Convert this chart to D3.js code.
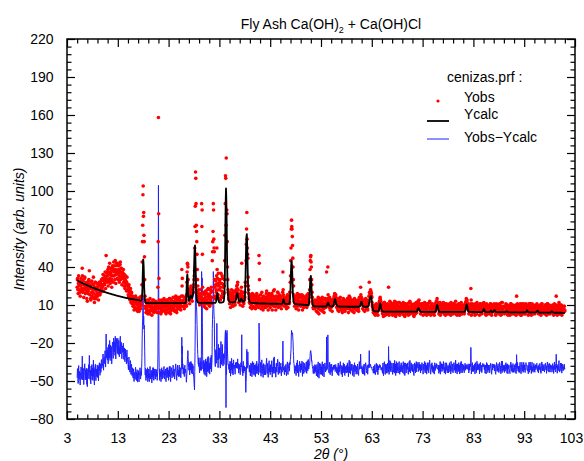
<!DOCTYPE html>
<html>
<head>
<meta charset="utf-8">
<script src="https://cdn.jsdelivr.net/npm/d3@7"></script>
<style>
  body { margin: 0; background: #fff; }
</style>
</head>
<body>
<script>
// scan: 2theta from 5.00 to 101.00, step 0.05 (one line = one degree)
var tthStart = 5.0,
    tthStep = 0.05;

var yobs = [
24,30,31,22,19,27,33,25,22,28,28,20,17,26,25,31,30,21,23,27,
39,33,20,26,29,23,16,22,26,31,32,24,19,27,24,20,28,22,15,24,
13,22,27,19,21,29,30,24,37,26,18,23,25,15,14,28,23,20,29,17,
20,26,16,22,32,19,26,15,12,24,22,28,28,17,15,21,24,18,19,27,
17,24,25,19,14,26,22,28,28,21,18,25,27,20,21,29,30,23,24,26,
25,31,34,26,21,29,31,27,26,33,36,28,23,32,49,30,30,36,35,28,
33,38,25,30,40,34,29,36,43,31,27,39,35,29,38,33,24,30,37,41,
39,33,28,37,44,36,33,41,38,30,45,38,27,34,36,43,41,35,31,37,
43,36,30,38,41,33,28,35,37,42,44,30,32,39,39,35,26,33,36,31,
31,35,38,28,25,32,34,29,23,30,33,27,29,25,21,28,32,26,26,22,
22,18,16,24,26,20,18,15,14,21,23,17,12,19,20,16,11,15,17,13,
9,14,16,10,6,12,13,8,8,15,17,11,7,13,12,6,15,10,5,12,
8,13,14,6,5,12,11,16,16,9,7,13,12,10,17,26,44,60,73,97,
104,80,83,65,60,48,30,17,9,14,7,4,12,8,6,13,10,14,3,9,
6,10,13,5,3,9,10,15,5,8,9,12,12,6,2,9,11,7,14,5,
14,8,4,11,8,13,12,6,5,10,13,9,7,12,10,4,7,11,24,60,
158,82,31,14,9,4,13,8,7,11,3,6,11,14,8,5,12,9,6,10,
9,13,15,6,5,11,8,12,13,4,3,9,11,14,6,9,14,10,7,12,
4,9,12,15,7,10,15,5,3,8,10,14,13,7,6,11,9,12,16,8,
7,11,13,6,5,10,11,15,17,12,9,6,4,10,14,16,8,11,12,7,
10,15,16,8,7,12,14,10,6,9,12,17,38,25,31,13,17,9,9,14,
14,9,7,13,16,10,11,13,12,10,9,18,28,36,43,42,40,30,22,17,
14,19,20,11,16,23,21,18,25,20,15,22,21,13,19,22,20,24,20,26,
30,33,37,55,72,88,115,110,90,73,68,60,50,38,30,25,20,17,22,15,
18,13,10,16,22,15,12,19,17,12,90,72,85,50,24,13,19,15,11,20,
9,14,18,12,8,16,21,11,14,19,7,13,19,22,11,17,23,12,15,10,
18,12,9,17,22,14,13,20,24,11,16,21,45,52,60,68,90,85,62,55,
52,30,24,17,15,26,29,22,20,33,55,38,31,27,25,18,35,22,26,30,
22,28,30,15,14,24,35,27,17,21,27,33,31,19,16,24,26,20,19,25,
30,45,65,90,112,110,73,126,82,85,82,60,40,30,22,20,19,15,14,18,
11,17,20,14,8,19,17,13,22,16,10,15,18,12,9,20,21,14,15,17,
16,12,10,15,20,17,22,19,25,21,23,26,28,19,22,18,12,16,18,14,
17,13,10,16,19,21,18,24,43,16,13,17,9,15,20,12,11,16,17,14,
16,20,28,25,28,45,58,70,83,62,55,50,47,32,25,22,19,15,12,17,
15,11,8,14,18,12,10,17,7,13,19,15,12,9,14,18,12,8,16,13,
12,16,7,11,17,14,10,19,9,13,15,12,11,17,8,13,49,43,30,15,
10,14,18,11,7,13,15,20,9,12,13,16,6,11,17,14,11,8,12,16,
16,10,8,14,14,19,21,12,9,15,17,11,6,13,12,18,19,10,13,15,
8,13,16,10,11,17,19,12,6,14,14,10,17,21,9,15,22,13,12,9,
14,9,6,12,17,13,10,16,15,20,20,11,8,14,12,17,18,10,9,14,
12,15,17,11,7,13,14,10,13,20,36,22,18,15,16,12,9,14,15,11,
10,14,16,9,7,12,14,17,18,11,8,13,13,15,17,11,12,20,20,28,
33,45,55,70,77,72,70,64,57,47,40,30,25,18,17,13,9,12,15,11,
14,10,7,13,17,12,10,19,9,14,15,11,6,12,13,17,18,10,12,16,
9,13,16,12,11,18,14,6,10,14,17,12,8,11,12,16,15,9,13,11,
11,15,17,9,8,14,18,12,10,15,19,13,12,16,18,22,30,38,45,48,
49,44,40,30,26,20,16,13,11,8,7,10,13,9,12,7,14,10,8,13,
12,8,5,10,14,11,8,4,13,16,7,10,3,9,12,15,10,6,11,14,
13,9,6,12,10,16,5,8,9,14,14,7,4,11,11,15,15,10,8,12,
9,12,36,14,11,13,15,40,18,14,13,9,8,14,16,11,6,10,12,14,
8,12,14,9,5,11,12,10,10,14,15,13,17,15,19,18,14,17,18,15,
14,11,8,12,12,9,6,14,15,10,5,11,13,8,9,14,16,12,10,7,
6,10,13,9,4,12,11,7,15,10,8,13,14,6,5,11,12,9,7,13,
13,9,7,11,15,8,9,12,4,10,14,17,10,7,16,12,6,9,12,14,
9,12,14,10,5,8,12,13,10,7,4,11,15,9,8,12,13,10,6,9,
12,9,6,11,14,10,9,7,5,11,13,16,10,12,11,15,24,18,15,16,
14,15,10,12,7,11,13,10,6,12,14,9,5,10,11,14,15,12,9,7,
9,12,13,7,6,10,14,12,13,17,28,20,17,19,20,22,21,20,19,17,
16,12,10,9,8,6,4,7,9,5,3,8,10,6,2,5,6,9,11,7,
4,7,10,5,2,8,9,6,9,11,13,12,15,16,14,13,10,8,9,7,
8,5,3,9,11,6,1,4,9,12,12,7,4,2,10,6,8,5,3,10,
3,7,11,9,6,4,24,10,2,6,9,13,5,8,12,4,4,7,8,11,
10,6,2,5,6,11,4,9,8,3,13,8,5,10,1,6,9,12,3,8,
5,9,11,4,3,7,8,12,12,5,2,8,9,4,6,11,11,7,4,9,
8,4,3,10,12,7,6,2,9,11,1,5,11,8,7,3,4,10,10,6,
11,7,5,3,2,8,9,12,7,4,13,9,3,6,8,11,10,5,5,9,
4,8,10,6,6,2,1,9,11,5,7,10,3,8,9,12,6,4,12,8,
10,12,13,9,7,11,14,8,11,6,6,10,3,7,9,5,5,11,11,8,
8,5,2,9,10,6,5,11,12,7,3,10,11,4,7,9,2,6,9,11,
5,9,11,4,3,8,8,12,13,7,6,3,2,9,10,6,7,11,4,8,
9,5,3,8,8,4,2,7,11,6,5,9,10,8,13,12,13,15,12,11,
11,9,7,10,3,6,9,4,5,12,2,8,11,7,7,10,4,8,10,6,
5,9,12,6,7,3,3,8,9,11,2,7,8,5,11,10,5,3,4,8,
9,6,3,8,7,10,11,4,4,9,6,2,12,8,7,5,4,10,9,6,
3,7,8,11,11,6,5,9,9,3,13,8,4,10,7,4,2,6,10,8,
7,4,11,8,5,9,2,6,9,11,6,3,12,9,7,5,3,8,10,6,
5,9,9,4,3,8,8,11,10,7,12,13,15,13,12,14,10,9,8,11,
6,8,3,7,10,5,5,9,8,11,23,14,2,6,7,9,11,4,5,8,
4,8,9,5,6,10,2,4,11,8,7,3,3,9,12,7,5,10,9,6,
9,6,5,10,2,6,8,11,11,6,4,9,7,3,5,8,8,11,9,10,
10,12,9,7,7,10,3,8,9,5,2,6,11,8,7,10,4,3,5,9,
5,8,9,4,3,7,7,11,11,8,6,3,2,6,10,7,5,9,7,10,
9,10,11,6,7,10,5,3,2,8,9,11,6,4,4,8,5,10,7,6,
3,6,7,11,10,4,5,8,2,6,9,12,6,3,12,7,4,9,8,5,
8,5,3,9,9,4,5,8,11,6,7,10,3,5,10,4,2,8,6,9,
9,6,5,3,2,8,7,11,11,6,4,9,8,3,5,9,10,7,3,6,
5,8,9,4,3,7,8,10,2,5,17,9,6,11,10,6,4,8,7,3,
8,5,3,10,11,7,5,2,2,8,9,11,6,4,8,9,3,6,11,7,
5,8,9,3,3,7,8,11,10,9,9,7,7,5,5,9,2,6,9,11,
3,6,8,11,11,5,5,8,2,6,9,11,4,7,7,3,6,9,10,5,
8,4,3,9,9,6,5,8,7,10,11,7,8,5,5,9,3,7,9,6,
5,8,10,6,3,7,2,5,8,11,11,6,4,9,7,4,5,8,9,5,
3,6,8,10,10,5,5,8,2,6,7,11,11,7,4,9,6,3,8,10,
8,5,3,7,9,6,6,9,7,4,4,8,10,6,5,8,2,6,8,11,
5,8,9,4,3,7,17,10,6,9,2,5,8,6,4,7,10,12,6,3,
3,6,8,10,6,4,10,7,2,5,5,9,8,4,4,7,6,9,9,5,
6
];

var ycalc = [
29.4,29.3,29.2,29.1,29.0,28.9,28.8,28.7,28.6,28.5,28.4,28.3,28.2,28.1,28.0,27.9,27.8,27.7,27.6,27.5,
27.4,27.3,27.2,27.1,27.0,26.9,26.8,26.7,26.6,26.5,26.4,26.3,26.2,26.15,26.1,26.0,25.9,25.8,25.7,25.6,
25.5,25.4,25.3,25.25,25.2,25.1,25.0,24.9,24.8,24.75,24.7,24.6,24.5,24.4,24.3,24.2,24.1,24.05,24.0,23.9,
23.8,23.7,23.6,23.55,23.5,23.4,23.3,23.25,23.2,23.1,23.0,22.9,22.8,22.75,22.7,22.6,22.5,22.45,22.4,22.3,
22.2,22.15,22.1,22.0,21.9,21.85,21.8,21.7,21.6,21.55,21.5,21.45,21.4,21.3,21.2,21.15,21.1,21.0,20.9,20.85,
20.8,20.75,20.7,20.6,20.5,20.45,20.4,20.35,20.3,20.2,20.1,20.05,20.0,19.95,19.9,19.85,19.8,19.7,19.6,19.55,
19.5,19.45,19.4,19.35,19.3,19.2,19.1,19.05,19.0,18.95,18.9,18.85,18.8,18.75,18.7,18.6,18.5,18.45,18.4,18.35,
18.3,18.25,18.2,18.15,18.1,18.05,18.0,17.9,17.8,17.75,17.7,17.65,17.6,17.55,17.5,17.45,17.4,17.35,17.3,17.25,
17.2,17.15,17.1,17.05,17.0,16.95,16.9,16.85,16.8,16.75,16.7,16.65,16.6,16.55,16.5,16.45,16.4,16.35,16.3,16.25,
16.2,16.15,16.1,16.05,16.0,15.95,15.9,15.85,15.8,15.75,15.7,15.65,15.6,15.55,15.5,15.5,15.5,15.45,15.4,15.35,
15.3,15.25,15.2,15.15,15.1,15.05,15.0,15.0,15.0,14.95,14.9,14.85,14.8,14.75,14.7,14.7,14.7,14.65,14.6,14.55,
14.5,14.45,14.4,14.4,14.4,14.35,14.3,14.25,14.2,14.2,14.2,14.15,14.1,14.05,14.0,14.0,14.0,13.95,13.9,13.85,
13.8,13.8,13.8,13.75,13.7,13.65,13.6,13.6,13.6,13.55,13.5,13.5,13.5,13.6,14.0,15.5,18.0,24.0,32.0,40.0,
46.0,44.0,40.0,32.0,24.0,19.0,15.0,13.5,12.3,12.0,11.7,11.6,11.5,11.5,11.5,11.5,11.5,11.5,11.5,11.5,
11.5,11.5,11.5,11.5,11.5,11.5,11.5,11.5,11.5,11.5,11.5,11.5,11.5,11.5,11.5,11.5,11.5,11.5,11.5,11.5,
11.5,11.5,11.5,11.5,11.5,11.5,11.5,11.5,11.5,11.5,11.5,11.5,11.5,11.5,11.5,11.5,11.5,11.5,11.5,11.5,
11.5,11.5,11.5,11.5,11.5,11.5,11.5,11.5,11.5,11.5,11.5,11.5,11.5,11.5,11.5,11.5,11.5,11.5,11.5,11.5,
11.5,11.5,11.5,11.5,11.5,11.5,11.5,11.5,11.5,11.5,11.5,11.5,11.5,11.5,11.5,11.5,11.5,11.5,11.5,11.5,
11.5,11.5,11.5,11.5,11.5,11.5,11.5,11.5,11.5,11.5,11.5,11.5,11.5,11.5,11.5,11.5,11.5,11.5,11.5,11.5,
11.5,11.5,11.5,11.5,11.5,11.5,11.5,11.5,11.5,11.5,11.5,11.5,11.5,11.5,11.5,11.5,11.5,11.5,11.5,11.5,
11.5,11.5,11.5,11.5,11.5,11.5,11.5,11.5,11.5,11.5,11.5,11.5,11.5,11.5,11.5,11.5,11.5,11.5,11.5,11.5,
11.5,11.5,11.5,11.5,11.5,11.5,11.6,11.8,12.5,14.5,18.0,24.0,30.0,33.5,34.0,30.0,24.0,19.5,16.0,14.5,
13.5,13.3,13.5,14.2,15.0,16.0,17.0,17.4,17.5,17.0,16.5,16.0,15.5,15.5,16.0,16.8,18.0,20.5,24.0,30.0,
38.0,45.0,52.0,55.5,57.0,52.0,44.0,35.0,26.0,21.0,17.0,15.0,13.5,12.8,12.3,12.1,11.9,11.8,11.7,11.6,
11.6,11.6,11.6,11.6,11.6,11.6,11.6,11.6,11.6,11.6,11.6,11.6,11.6,11.6,11.6,11.6,11.6,11.6,11.6,11.6,
11.6,11.6,11.6,11.6,11.6,11.6,11.6,11.6,11.6,11.6,11.6,11.6,11.6,11.6,11.6,11.6,11.6,11.6,11.6,11.6,
11.6,11.6,11.6,11.6,11.6,11.6,11.6,11.6,11.6,11.6,11.6,11.6,11.6,11.6,11.6,11.6,11.6,11.6,11.6,11.6,
11.6,11.6,11.6,11.6,11.7,11.9,12.3,13.0,14.0,15.7,17.5,18.5,19.3,18.5,17.0,15.5,14.0,13.2,12.5,12.2,
12.0,11.9,11.8,11.8,11.8,11.8,11.8,11.85,11.9,11.95,12.0,12.05,12.1,12.15,12.2,12.3,12.5,13.0,14.0,16.5,
20.0,28.0,40.0,60.0,80.0,94.0,102.0,96.0,85.0,68.0,50.0,36.0,26.0,20.5,17.0,15.3,14.0,13.5,13.0,12.7,
12.5,12.4,12.3,12.25,12.2,12.15,12.1,12.1,12.1,12.1,12.1,12.1,12.1,12.15,12.2,12.25,12.3,12.3,12.3,12.3,
12.3,12.4,12.6,13.0,13.5,14.4,15.5,16.8,18.0,18.8,19.3,19.0,18.5,17.3,16.0,14.8,13.8,13.2,12.8,12.7,
12.6,12.8,13.0,13.5,14.0,14.5,15.0,14.8,14.5,14.0,13.5,13.1,12.8,12.6,12.5,12.5,12.6,12.8,13.0,14.0,
16.0,19.5,25.0,34.0,45.0,54.0,62.0,65.0,66.0,60.0,52.0,42.0,32.0,25.0,20.0,17.0,15.0,13.8,13.0,12.6,
12.3,12.1,12.0,11.9,11.8,11.75,11.7,11.7,11.7,11.65,11.6,11.6,11.6,11.6,11.6,11.6,11.5,11.5,11.5,11.5,
11.5,11.5,11.5,11.5,11.4,11.4,11.4,11.4,11.4,11.4,11.4,11.4,11.4,11.35,11.3,11.3,11.3,11.3,11.3,11.3,
11.3,11.3,11.3,11.3,11.3,11.3,11.3,11.3,11.2,11.2,11.2,11.2,11.2,11.2,11.2,11.2,11.2,11.2,11.2,11.2,
11.2,11.2,11.2,11.2,11.1,11.1,11.1,11.1,11.1,11.1,11.1,11.1,11.1,11.1,11.1,11.1,11.0,11.0,11.0,11.0,
11.0,11.0,11.0,11.0,11.0,11.0,11.0,11.0,11.0,11.0,11.0,11.0,11.0,11.0,11.0,11.0,11.0,11.0,11.0,11.0,
11.0,11.0,11.0,11.0,11.0,11.0,11.0,11.0,10.9,10.9,10.9,10.9,10.9,10.9,10.9,10.9,10.9,10.9,10.9,10.9,
10.9,10.9,10.9,10.9,10.9,10.9,11.0,11.1,11.3,11.8,12.5,13.5,14.5,14.5,14.0,13.0,12.0,11.4,11.0,10.9,
10.9,10.9,10.9,10.9,10.9,10.9,10.9,10.9,10.9,10.9,10.9,10.9,10.9,10.9,11.0,11.3,12.0,13.2,15.0,19.0,
24.0,31.0,38.0,42.5,45.0,43.0,40.0,34.0,27.0,21.0,17.0,14.5,13.0,12.0,11.5,11.2,11.0,10.9,10.8,10.75,
10.7,10.7,10.7,10.7,10.7,10.6,10.6,10.6,10.6,10.6,10.5,10.5,10.5,10.5,10.5,10.5,10.4,10.4,10.4,10.4,
10.4,10.4,10.3,10.3,10.3,10.3,10.3,10.3,10.2,10.2,10.2,10.2,10.2,10.2,10.1,10.1,10.1,10.1,10.1,10.1,
10.0,10.0,10.0,10.0,10.0,10.0,10.0,10.0,10.0,10.0,10.0,10.0,10.5,12.0,14.0,17.5,22.0,26.5,30.0,32.0,
33.0,31.0,27.0,22.5,18.0,15.0,12.5,11.0,10.0,9.5,9.2,9.1,9.0,9.0,9.0,9.0,9.0,8.9,8.9,8.9,
8.9,8.9,8.9,8.9,8.9,8.9,8.9,8.9,8.9,8.9,8.8,8.8,8.8,8.8,8.8,8.8,8.8,8.8,8.8,8.8,
8.8,8.8,8.8,8.8,8.8,8.8,8.8,8.8,8.8,8.8,8.8,8.8,8.8,8.8,8.8,8.8,8.8,8.8,8.8,8.8,
8.8,9.0,9.2,9.6,10.0,10.7,11.3,11.6,11.8,11.5,11.0,10.4,9.8,9.5,9.2,9.1,9.0,8.9,8.9,8.8,
8.8,8.8,8.8,8.8,8.9,8.9,9.0,9.2,9.5,10.0,10.5,11.5,12.5,13.4,14.2,14.4,14.5,13.8,13.0,12.0,
11.0,10.4,9.8,9.5,9.2,9.1,9.0,8.9,8.9,8.8,8.8,8.8,8.8,8.8,8.8,8.8,8.7,8.7,8.7,8.7,
8.7,8.7,8.7,8.7,8.7,8.7,8.7,8.7,8.7,8.7,8.7,8.7,8.7,8.7,8.7,8.7,8.7,8.7,8.7,8.7,
8.7,8.7,8.7,8.7,8.7,8.7,8.6,8.6,8.6,8.6,8.6,8.6,8.6,8.6,8.6,8.6,8.6,8.6,8.6,8.6,
8.6,8.6,8.6,8.6,8.6,8.6,8.6,8.6,8.6,8.6,8.6,8.6,8.6,8.6,8.6,8.6,8.6,8.6,8.6,8.6,
8.6,8.6,8.6,8.6,8.6,8.6,8.6,8.6,8.6,8.6,8.65,8.7,8.8,9.0,9.4,10.0,10.8,11.6,12.2,12.6,
12.5,12.0,11.2,10.2,9.5,9.0,8.8,8.7,8.6,8.6,8.6,8.6,8.6,8.6,8.6,8.6,8.6,8.6,8.6,8.6,
8.6,8.6,8.6,8.6,8.7,8.8,9.0,9.4,10.0,11.0,12.0,13.2,14.5,15.5,16.3,16.8,17.0,16.8,16.0,14.8,
13.0,11.2,9.5,8.0,7.0,6.3,5.8,5.5,5.2,5.1,5.0,5.0,5.0,5.0,5.0,5.0,5.0,5.0,5.0,5.0,
5.0,5.0,5.0,5.0,5.0,5.0,5.1,5.3,5.9,6.8,8.0,9.5,10.6,11.3,11.0,10.0,8.7,7.5,6.5,5.8,
5.4,5.1,4.9,4.85,4.8,4.8,4.8,4.8,4.8,4.8,4.8,4.8,4.8,4.8,4.8,4.8,4.8,4.8,4.8,4.8,
4.8,4.8,4.8,4.8,4.8,4.8,4.8,4.8,4.8,4.8,4.8,4.8,4.8,4.8,4.8,4.8,4.8,4.8,4.8,4.8,
4.8,4.8,4.8,4.8,4.8,4.8,4.8,4.8,4.8,4.8,4.7,4.7,4.7,4.7,4.7,4.7,4.7,4.7,4.7,4.7,
4.7,4.7,4.7,4.7,4.7,4.7,4.7,4.7,4.7,4.7,4.7,4.7,4.7,4.7,4.7,4.7,4.7,4.7,4.7,4.7,
4.7,4.7,4.7,4.7,4.7,4.7,4.7,4.7,4.7,4.7,4.7,4.7,4.7,4.7,4.7,4.7,4.7,4.7,4.7,4.7,
4.7,4.7,4.7,4.7,4.7,4.7,4.7,4.7,4.7,4.7,4.7,4.7,4.7,4.7,4.7,4.7,4.7,4.7,4.7,4.7,
4.7,4.7,4.7,4.7,4.7,4.7,4.7,4.7,4.7,4.7,4.7,4.7,4.7,4.7,4.7,4.7,4.75,4.8,5.1,5.5,
6.5,6.9,7.3,7.4,7.5,7.3,7.0,6.5,6.0,5.6,5.2,4.9,4.7,4.65,4.6,4.6,4.6,4.6,4.6,4.6,
4.6,4.6,4.6,4.6,4.6,4.6,4.6,4.6,4.6,4.6,4.6,4.6,4.6,4.6,4.6,4.6,4.6,4.6,4.6,4.6,
4.6,4.6,4.6,4.6,4.6,4.6,4.6,4.6,4.6,4.6,4.6,4.6,4.6,4.6,4.6,4.6,4.6,4.6,4.6,4.6,
4.6,4.6,4.6,4.6,4.6,4.6,4.6,4.6,4.6,4.6,4.7,4.8,5.3,6.0,7.2,8.5,9.4,10.0,9.9,9.5,
8.6,7.5,6.5,5.5,5.0,4.7,4.6,4.6,4.6,4.6,4.6,4.6,4.6,4.6,4.6,4.6,4.6,4.6,4.6,4.6,
4.6,4.6,4.6,4.6,4.6,4.6,4.6,4.6,4.6,4.6,4.6,4.6,4.6,4.6,4.6,4.6,4.6,4.6,4.6,4.6,
4.6,4.6,4.6,4.6,4.6,4.6,4.6,4.6,4.6,4.6,4.5,4.5,4.5,4.5,4.5,4.5,4.5,4.5,4.5,4.5,
4.5,4.5,4.5,4.5,4.5,4.5,4.5,4.5,4.5,4.5,4.5,4.5,4.5,4.5,4.5,4.5,4.5,4.5,4.5,4.5,
4.5,4.5,4.5,4.5,4.5,4.5,4.5,4.5,4.5,4.5,4.5,4.5,4.5,4.5,4.5,4.5,4.5,4.5,4.5,4.5,
4.5,4.5,4.5,4.5,4.5,4.5,4.7,5.0,5.7,6.5,7.8,9.0,10.0,10.5,10.3,9.8,8.7,7.5,6.4,5.5,
5.0,4.7,4.6,4.5,4.5,4.5,4.5,4.5,4.5,4.5,4.5,4.5,4.5,4.5,4.5,4.5,4.5,4.5,4.5,4.5,
4.5,4.5,4.5,4.5,4.5,4.5,4.5,4.5,4.5,4.5,4.4,4.4,4.4,4.4,4.4,4.4,4.4,4.4,4.4,4.4,
4.4,4.4,4.4,4.4,4.4,4.4,4.4,4.4,4.4,4.4,4.4,4.4,4.4,4.4,4.4,4.4,4.7,5.0,5.5,6.0,
6.5,6.8,6.6,6.3,5.8,5.2,4.8,4.6,4.5,4.4,4.4,4.4,4.4,4.4,4.4,4.4,4.4,4.4,4.4,4.4,
4.4,4.4,4.4,4.4,4.45,4.5,4.7,5.0,5.3,5.5,5.3,5.0,4.7,4.5,4.4,4.4,4.4,4.4,4.6,4.9,
5.3,5.6,5.8,6.0,5.8,5.6,5.3,4.9,4.7,4.5,4.4,4.4,4.4,4.4,4.4,4.4,4.4,4.4,4.4,4.4,
4.3,4.3,4.3,4.3,4.3,4.3,4.3,4.3,4.3,4.3,4.3,4.3,4.3,4.3,4.3,4.3,4.3,4.3,4.3,4.3,
4.3,4.3,4.3,4.3,4.3,4.3,4.35,4.4,4.5,4.7,4.85,5.0,4.85,4.7,4.5,4.4,4.3,4.3,4.3,4.3,
4.2,4.2,4.2,4.2,4.2,4.2,4.2,4.2,4.2,4.2,4.2,4.2,4.2,4.2,4.2,4.2,4.2,4.2,4.2,4.2,
4.2,4.2,4.2,4.2,4.2,4.2,4.2,4.2,4.2,4.2,4.2,4.2,4.2,4.2,4.2,4.2,4.2,4.2,4.2,4.2,
4.2,4.2,4.2,4.2,4.2,4.2,4.2,4.2,4.2,4.2,4.2,4.2,4.2,4.2,4.2,4.2,4.2,4.2,4.2,4.2,
4.2,4.2,4.2,4.2,4.2,4.2,4.3,4.5,4.8,5.2,5.6,6.0,5.6,5.2,4.8,4.5,4.3,4.2,4.2,4.2,
4.1,4.1,4.1,4.1,4.1,4.1,4.1,4.1,4.1,4.1,4.1,4.1,4.1,4.1,4.1,4.1,4.1,4.1,4.1,4.1,
4.1,4.1,4.1,4.1,4.1,4.1,4.2,4.3,4.5,4.8,5.0,5.3,5.4,5.5,5.3,5.0,4.7,4.4,4.2,4.1,
4.0,4.0,4.0,4.0,4.0,4.0,4.0,4.0,4.0,4.0,4.0,4.0,4.0,4.0,4.0,4.0,4.0,4.0,4.0,4.0,
4.0,4.0,4.0,4.0,4.0,4.0,4.0,4.0,4.0,4.0,4.0,4.0,4.0,4.0,4.0,4.0,4.0,4.0,4.0,4.0,
4.0,4.0,4.0,4.0,4.1,4.3,4.5,4.8,4.9,5.0,4.8,4.6,4.3,4.1,4.0,4.0,4.0,4.0,4.0,4.0,
3.9,3.9,3.9,3.9,3.9,3.9,3.9,3.9,3.9,3.9,3.9,3.9,3.9,3.9,3.9,3.9,3.9,3.9,3.9,3.9,
3.9,3.9,3.9,3.9,3.9,3.9,3.9,3.9,3.8,3.8,3.8,3.8,3.8,3.8,3.8,3.8,3.8,3.8,3.8,3.8,
3.8
];

// Yobs-Ycalc is drawn shifted down by this amount
var diffOffset = -42;

var xTicks = [3, 13, 23, 33, 43, 53, 63, 73, 83, 93, 103];
var yTicks = [-80, -50, -20, 10, 40, 70, 100, 130, 160, 190, 220];
var legendTitle = "cenizas.prf :";
var legendLabels = ["Yobs", "Ycalc", "Yobs\u2212Ycalc"];

var width = 584,
    height = 461;
var plotLeft = 67, plotRight = 575, plotTop = 39, plotBottom = 419;
var font = "'Liberation Sans', Arial, Helvetica, sans-serif";

var svg = d3.select("body").append("svg")
    .attr("width", width)
    .attr("height", height);

var x = d3.scaleLinear().domain([3, 103]).range([plotLeft, plotRight]);
var y = d3.scaleLinear().domain([-80, 220]).range([plotBottom, plotTop]);

var n = Math.min(yobs.length, ycalc.length);
var points = d3.range(n).map(function (i) {
    return { tth: tthStart + i * tthStep, obs: yobs[i], calc: ycalc[i] };
});

svg.append("clipPath").attr("id", "plotclip")
  .append("rect")
    .attr("x", plotLeft).attr("y", plotTop)
    .attr("width", plotRight - plotLeft).attr("height", plotBottom - plotTop);

var plot = svg.append("g").attr("clip-path", "url(#plotclip)");

// difference curve (under the points)
plot.append("path")
    .datum(points)
    .attr("fill", "none")
    .attr("stroke", "#1f1fff")
    .attr("stroke-width", 1)
    .attr("d", d3.line()
        .x(function (d) { return x(d.tth); })
        .y(function (d) { return y(d.obs - d.calc + diffOffset); }));

// observed points
plot.selectAll(".obs")
    .data(points)
    .enter()
  .append("circle")
    .attr("class", "obs")
    .attr("cx", function (d) { return x(d.tth); })
    .attr("cy", function (d) { return y(d.obs); })
    .attr("r", 1.8)
    .attr("fill", "#ff0000");

// calculated profile
plot.append("path")
    .datum(points)
    .attr("fill", "none")
    .attr("stroke", "#000")
    .attr("stroke-width", 1.8)
    .attr("stroke-linejoin", "round")
    .attr("d", d3.line()
        .x(function (d) { return x(d.tth); })
        .y(function (d) { return y(d.calc); }));

// axes: inward ticks on all four sides
var xMinor = d3.range(3, 104, 2).filter(function (v) { return xTicks.indexOf(v) < 0; });
var yMinor = d3.range(-80, 221, 6).filter(function (v) { return yTicks.indexOf(v) < 0; });

function addAxis(axis, tx, ty) {
    var g = svg.append("g")
        .attr("transform", "translate(" + tx + "," + ty + ")")
        .call(axis);
    g.select(".domain").remove();
    g.attr("font-family", font).attr("font-size", 14);
    g.selectAll("line").attr("stroke", "#000").attr("stroke-width", 1.2);
    g.selectAll("text").attr("fill", "#000");
    return g;
}

var xAxisG = addAxis(d3.axisBottom(x).tickValues(xTicks).tickSize(-8).tickPadding(14), 0, plotBottom);
// the last label is pulled in a little so it stays inside the page
xAxisG.selectAll(".tick text").filter(function (d) { return d === 103; }).attr("x", -4);
addAxis(d3.axisBottom(x).tickValues(xMinor).tickSize(-4.5).tickFormat(""), 0, plotBottom);
addAxis(d3.axisTop(x).tickValues(xTicks).tickSize(-8).tickFormat(""), 0, plotTop);
addAxis(d3.axisTop(x).tickValues(xMinor).tickSize(-4.5).tickFormat(""), 0, plotTop);
addAxis(d3.axisLeft(y).tickValues(yTicks).tickSize(-8).tickPadding(13.5), plotLeft, 0);
addAxis(d3.axisLeft(y).tickValues(yMinor).tickSize(-4.5).tickFormat(""), plotLeft, 0);
addAxis(d3.axisRight(y).tickValues(yTicks).tickSize(-8).tickFormat(""), plotRight, 0);
addAxis(d3.axisRight(y).tickValues(yMinor).tickSize(-4.5).tickFormat(""), plotRight, 0);

svg.append("rect")
    .attr("x", plotLeft).attr("y", plotTop)
    .attr("width", plotRight - plotLeft).attr("height", plotBottom - plotTop)
    .attr("fill", "none")
    .attr("stroke", "#000")
    .attr("stroke-width", 1.5);

// title with subscript
var title = svg.append("text")
    .attr("x", 331).attr("y", 29)
    .attr("text-anchor", "middle")
    .attr("font-family", font).attr("font-size", 14);
title.append("tspan").text("Fly Ash Ca(OH)");
title.append("tspan").attr("font-size", 9).attr("dy", 4).text("2");
title.append("tspan").attr("dy", -4).text(" + Ca(OH)Cl");

svg.append("text")
    .attr("transform", "translate(24," + ((plotTop + plotBottom) / 2) + ") rotate(-90)")
    .attr("text-anchor", "middle")
    .attr("font-family", font).attr("font-size", 14)
    .attr("font-style", "italic")
    .text("Intensity (arb. units)");

svg.append("text")
    .attr("x", 331).attr("y", 459)
    .attr("text-anchor", "middle")
    .attr("font-family", font).attr("font-size", 14)
    .attr("font-style", "italic")
    .text("2\u03b8 (\u00b0)");

// legend
var legend = svg.append("g").attr("font-family", font).attr("font-size", 14);
legend.append("text").attr("x", 447).attr("y", 82).text(legendTitle);
legend.append("circle").attr("cx", 438).attr("cy", 101).attr("r", 1.6).attr("fill", "#ff0000");
legend.append("line").attr("x1", 427).attr("x2", 449).attr("y1", 121).attr("y2", 121)
    .attr("stroke", "#000").attr("stroke-width", 1.8);
legend.append("line").attr("x1", 427).attr("x2", 449).attr("y1", 139).attr("y2", 139)
    .attr("stroke", "#1f1fff").attr("stroke-width", 1);
legend.selectAll(".lab")
    .data(legendLabels)
    .enter()
  .append("text")
    .attr("class", "lab")
    .attr("x", 464)
    .attr("y", function (d, i) { return [102, 119, 142][i]; })
    .text(function (d) { return d; });
</script>
</body>
</html>
